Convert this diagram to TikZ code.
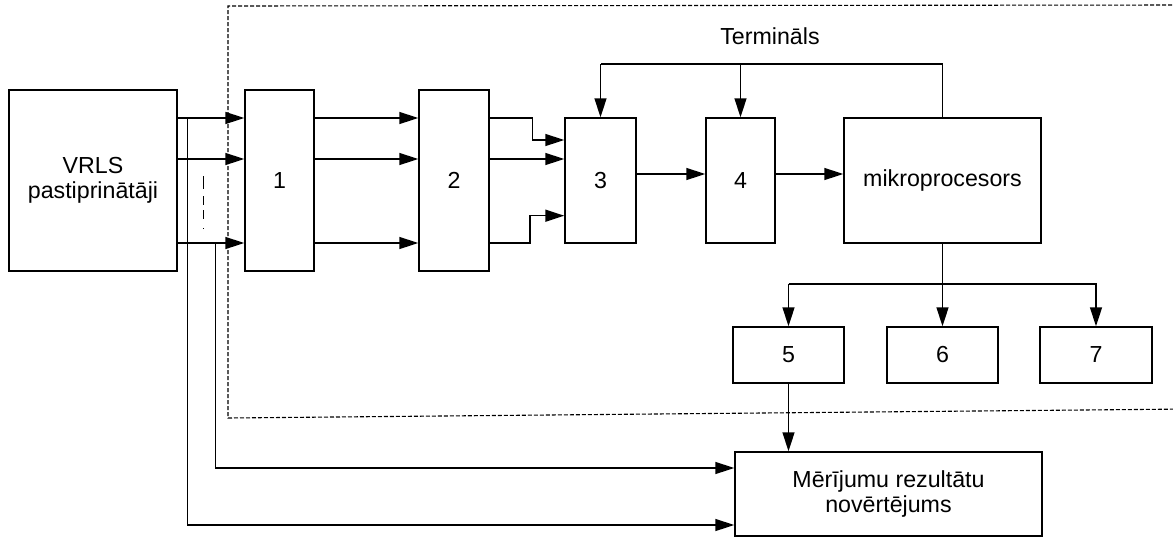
\documentclass[tikz,border=0pt]{standalone}
\usepackage{fontspec}
\setmainfont{Liberation Sans}
\usetikzlibrary{arrows.meta}
\begin{document}
\begin{tikzpicture}[x=0.5pt,y=-0.5pt,
  txt/.style={font=\fontsize{11.6}{12.8}\selectfont},
  blk/.style={draw,line width=0.75pt,rectangle,inner sep=0pt,align=center,txt},
  conn/.style={line width=0.75pt},
  arr/.style={conn,-{Triangle[length=9.5pt,width=6pt]}},
  frame/.style={line width=0.55pt,dash pattern=on 2pt off 1pt,draw=black}]
\useasboundingbox (0,0) rectangle (1173,536);

% dashed boundary of the measuring unit
\draw[frame] (1190,5) -- (228,6) -- (228,418) -- (1190,409);

% blocks
\node[blk,minimum width=84pt,minimum height=90.5pt] (vrls) at (93,180.5) {VRLS\\pastiprinātāji};
\node[blk,minimum width=34.5pt,minimum height=90.5pt] (b1) at (279.5,180.5) {1};
\node[blk,minimum width=35pt,minimum height=90.5pt] (b2) at (454,180.5) {2};
\node[blk,minimum width=35.5pt,minimum height=62.5pt] (b3) at (600.5,180.5) {3};
\node[blk,minimum width=34.5pt,minimum height=62.5pt] (b4) at (740.5,180.5) {4};
\node[blk,minimum width=98.5pt,minimum height=62.5pt] (mp) at (942.5,180.5) {mikroprocesors};
\node[blk,minimum width=55.5pt,minimum height=28pt] (b5) at (788.5,355) {5};
\node[blk,minimum width=55.5pt,minimum height=28pt] (b6) at (942.5,355) {6};
\node[blk,minimum width=56pt,minimum height=28pt] (b7) at (1096,355) {7};
\node[blk,minimum width=153.5pt,minimum height=42pt] (mr) at (888.5,494) {Mērījumu rezultātu\\novērtējums};
\node[txt] (term) at (770,36) {Termināls};

% signal rows
\coordinate (r1) at (0,118);
\coordinate (r2) at (0,159);
\coordinate (r3) at (0,243);
\coordinate (r3a) at (0,140);
\coordinate (r3c) at (0,215.7);
\coordinate (r34) at (0,174);
\coordinate (tl) at (0,64);
\coordinate (bl) at (0,284);
\coordinate (m1) at (0,468);
\coordinate (m2) at (0,525);
\coordinate (v1) at (187.7,0);
\coordinate (v2) at (215.7,0);
\coordinate (j1) at (532.7,0);
\coordinate (j3) at (530,0);

% amplifiers to blocks 1 and 2
\foreach \r in {r1,r2,r3}{
  \draw[arr] (vrls.east |- \r) -- (b1.west |- \r);
  \draw[arr] (b1.east |- \r) -- (b2.west |- \r);
}
\draw[conn,dash pattern=on 6.5pt off 3.5pt on 4.5pt off 2.5pt on 4.5pt off 4.5pt on 0.8pt]
  (203.3,176) -- (203.3,229);

% block 2 to block 3
\draw[arr] (b2.east |- r1) -- (j1 |- r1) -- (j1 |- r3a) -- (b3.west |- r3a);
\draw[arr] (b2.east |- r2) -- (b3.west |- r2);
\draw[arr] (b2.east |- r3) -- (j3 |- r3) -- (j3 |- r3c) -- (b3.west |- r3c);

% main chain
\draw[arr] (b3.east |- r34) -- (b4.west |- r34);
\draw[arr] (b4.east |- r34) -- (mp.west |- r34);

% terminal feedback
\draw[conn] (mp.north) -- (mp.north |- tl) -- (b3.north |- tl);
\draw[arr] (b3.north |- tl) -- (b3.north);
\draw[arr] (b4.north |- tl) -- (b4.north);

% microprocessor outputs
\draw[arr] (mp.south) -- (b6.north);
\draw[arr] (b5.north |- bl) -- (b5.north);
\draw[arr] (b5.north |- bl) -- (b7.north |- bl) -- (b7.north);
\draw[arr] (b5.south) -- (mr.north -| b5.south);

% direct paths to evaluation
\draw[arr] (v1 |- r1) -- (v1 |- m2) -- (mr.west |- m2);
\draw[arr] (v2 |- r3) -- (v2 |- m1) -- (mr.west |- m1);
\end{tikzpicture}
\end{document}
